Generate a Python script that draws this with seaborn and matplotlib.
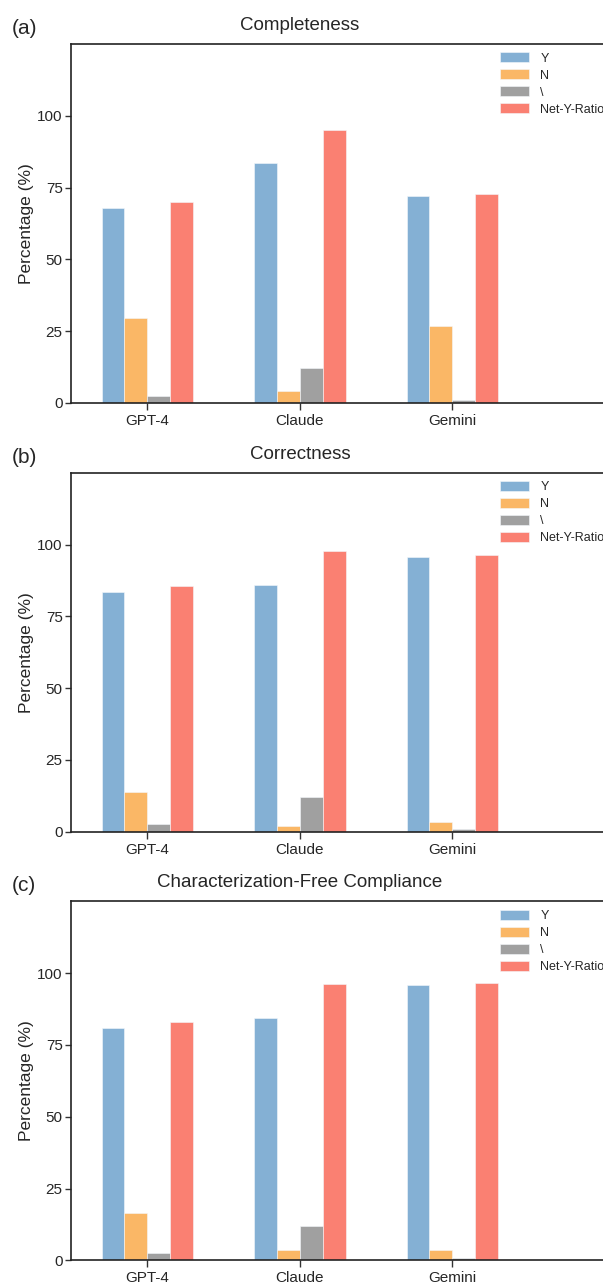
import matplotlib
matplotlib.use("Agg")
import matplotlib.pyplot as plt
import seaborn as sns
import pandas as pd

# ----- Data ---------------------------------------------------------------
models     = ["GPT-4", "Claude", "Gemini"]
categories = ["Y", "N", "\\", "Net-Y-Ratio"]
titles     = ["Completeness", "Correctness", "Characterization-Free Compliance"]
panel_tags = ["(a)", "(b)", "(c)"]

completeness_y   = [68.0, 83.5, 72.2]
completeness_n   = [29.5, 4.3, 26.8]
completeness_na  = [2.5, 12.2, 1.0]
completeness_net = [69.9, 95.1, 72.8]

correctness_y   = [83.4, 86.0, 95.6]
correctness_n   = [13.9, 1.9, 3.4]
correctness_na  = [2.7, 12.2, 0.9]
correctness_net = [85.6, 97.9, 96.3]

compliance_y   = [80.9, 84.5, 95.7]
compliance_n   = [16.6, 3.5, 3.5]
compliance_na  = [2.7, 12.1, 0.8]
compliance_net = [83.0, 96.1, 96.4]

yticks = [0, 25, 50, 75, 100]

palette = ["#84b0d4", "#fab766", "#a0a0a0", "#fa8072"]

panels = [
    [completeness_y, completeness_n, completeness_na, completeness_net],
    [correctness_y, correctness_n, correctness_na, correctness_net],
    [compliance_y, compliance_n, compliance_na, compliance_net],
]


def to_frame(series):
    rows = []
    for cat, vals in zip(categories, series):
        for m, v in zip(models, vals):
            rows.append({"model": m, "category": cat, "value": v})
    return pd.DataFrame(rows)


sns.set_style("ticks")
plt.rcParams["font.family"] = ["Liberation Sans", "DejaVu Sans"]

W, H = 603, 1287
fig = plt.figure(figsize=(W / 100, H / 100), dpi=100)

# axes geometry in pixels (right edge runs past the figure, like the source crop)
left_px, right_px = 71, 620
tops_px = [44, 472.7, 901.3]
ax_h_px = 359

for i, series in enumerate(panels):
    top = tops_px[i]
    ax = fig.add_axes([left_px / W, 1 - (top + ax_h_px) / H,
                       (right_px - left_px) / W, ax_h_px / H])
    df = to_frame(series)
    sns.barplot(data=df, x="model", y="value", hue="category",
                order=models, hue_order=categories, palette=palette,
                width=0.6, edgecolor="#f4f8fb", linewidth=0.4,
                saturation=1, ax=ax)

    ax.set_xlim(-0.5, -0.5 + (right_px - left_px) / 152.5)
    ax.set_ylim(0, 125)
    ax.set_yticks(yticks)
    ax.set_xlabel("")
    ax.set_ylabel("Percentage (%)", fontsize=12.5, labelpad=2)
    ax.tick_params(axis="both", labelsize=11, width=1, color="#333333")
    ax.tick_params(axis="y", length=4, pad=2)
    ax.tick_params(axis="x", length=5, pad=3)
    for side in ["left", "top", "bottom", "right"]:
        ax.spines[side].set_linewidth(1.2)
        ax.spines[side].set_color("#222222")

    ax.set_title(titles[i], fontsize=13.5, pad=10,
                 x=(300 - left_px) / (right_px - left_px))
    ax.text((12 - left_px) / (right_px - left_px), 1 + 10 / ax_h_px,
            panel_tags[i], transform=ax.transAxes, fontsize=15,
            ha="left", va="baseline")

    ax.legend(loc="upper left", bbox_to_anchor=(0.781, 0.977),
              frameon=False, fontsize=9, borderpad=0, borderaxespad=0,
              handlelength=2.3, handleheight=0.85, handletextpad=0.95,
              labelspacing=0.38)

fig.savefig("out.png", dpi=100)
plt.close(fig)
